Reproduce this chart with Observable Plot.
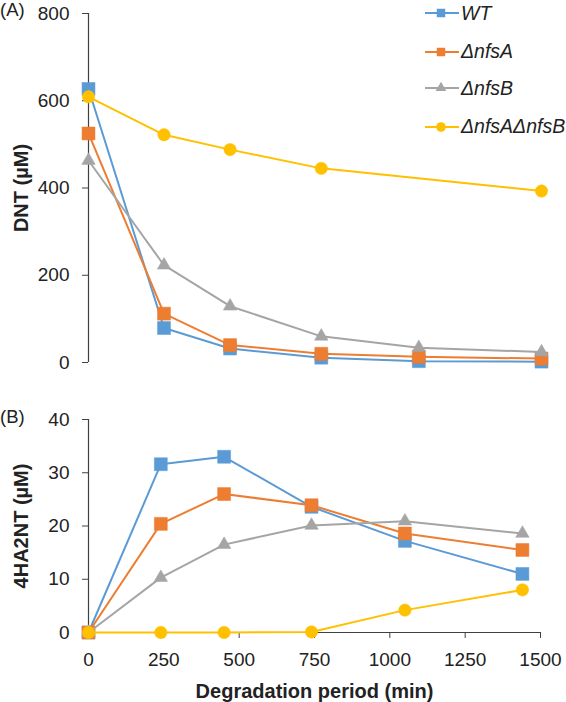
<!DOCTYPE html>
<html>
<head>
<meta charset="utf-8">
<script src="https://cdn.jsdelivr.net/npm/d3@7"></script>
<script src="https://cdn.jsdelivr.net/npm/@observablehq/plot@0.6"></script>
<style>
  html, body { margin: 0; padding: 0; background: #fff; }
  #wrap { position: relative; width: 566px; height: 702px; overflow: hidden; font-family: "Liberation Sans", Arial, sans-serif; color: #222; }
  .panel { position: absolute; left: 0; }
  .tag { position: absolute; left: 0; font-size: 18.5px; line-height: 1; }
  #legend { position: absolute; left: 425px; top: 0; }
  .item { position: absolute; left: 0; display: flex; align-items: center; height: 20px; white-space: nowrap; }
  .item span { font-style: italic; font-size: 19.5px; margin-left: 2px; }
</style>
</head>
<body>
<div id="wrap">
  <div class="panel" id="pa" style="top:0"></div>
  <div class="panel" id="pb" style="top:375px"></div>
  <div class="tag" style="top:1px">(A)</div>
  <div class="tag" style="top:408px">(B)</div>
  <div id="legend"></div>
</div>
<script>
// ---- data ----
const series = ["WT", "ΔnfsA", "ΔnfsB", "ΔnfsAΔnfsB"];
const colors = ["#5B9BD5", "#ED7D31", "#A5A5A5", "#FFC000"];
const symbols = ["square", "square", "triangle", "circle"];
const times = [0, 240, 450, 740, 1050, 1440];

// (A) DNT (µM)
const dntWT   = [627, 79, 32, 11, 3, 2];
const dntA    = [525, 112, 40, 20, 13, 9];
const dntB    = [463, 223, 129, 60, 34, 24];
const dntAB   = [609, 522, 488, 445, null, 393];

// (B) 4HA2NT (µM)
const haWT    = [0, 31.6, 33.0, 23.6, 17.2, 11.0];
const haA     = [0, 20.4, 26.0, 23.9, 18.6, 15.5];
const haB     = [0, 10.3, 16.5, 20.1, 20.9, 18.6];
const haAB    = [0, 0, 0, 0.1, 4.2, 8.0];

const dntTicks = [0, 200, 400, 600, 800];
const haTicks = [0, 10, 20, 30, 40];
const xTicks = [0, 250, 500, 750, 1000, 1250, 1500];

function table(arrs) {
  const rows = [];
  arrs.forEach((vals, si) => vals.forEach((v, i) => {
    if (v !== null) rows.push({series: series[si], t: times[i], v});
  }));
  return rows;
}
const dataA = table([dntWT, dntA, dntB, dntAB]);
const dataB = table([haWT, haA, haB, haAB]);

const rFor = {square: 7.3, triangle: 5, circle: 6.2};
const font = "Liberation Sans, Arial, sans-serif";
const axisColor = "#404040";

function seriesMarks(data) {
  const marks = [];
  series.forEach((s, i) => {
    const d = data.filter(r => r.series === s);
    marks.push(Plot.line(d, {x: "t", y: "v", stroke: colors[i], strokeWidth: 2}));
    marks.push(Plot.dot(d, {x: "t", y: "v", fill: colors[i], stroke: colors[i], strokeWidth: 0.5, symbol: () => symbols[i], r: rFor[symbols[i]]}));
  });
  return marks;
}

function styleLabels(svg) {
  d3.select(svg).selectAll('g[aria-label="y-axis label"] text, g[aria-label="x-axis label"] text')
    .attr("font-weight", "bold").attr("font-size", "20px").attr("fill", "#222");
  d3.select(svg).selectAll('g[aria-label="y-axis label"], g[aria-label="x-axis label"]')
    .attr("font-weight", "bold").attr("font-size", "20px");
}

const plotA = Plot.plot({
  width: 566, height: 375,
  marginLeft: 88, marginRight: 25, marginTop: 13, marginBottom: 13,
  style: {fontFamily: font, fontSize: "19px", color: "#222", background: "transparent", overflow: "visible"},
  x: {domain: [0, 1440], axis: null},
  y: {domain: [0, 800]},
  marks: [
    Plot.axisY({ticks: dntTicks, tickSize: 6, tickPadding: 13, stroke: axisColor, fill: "#222",
      label: "DNT (µM)", labelAnchor: "center", labelOffset: 75, labelArrow: "none", tickFormat: d => String(d)}),
    Plot.ruleX([0], {stroke: axisColor, strokeWidth: 1.2}),
    ...seriesMarks(dataA)
  ]
});
styleLabels(plotA);
document.getElementById("pa").appendChild(plotA);

const plotB = Plot.plot({
  width: 566, height: 327,
  marginLeft: 88, marginRight: 26, marginTop: 44, marginBottom: 70,
  style: {fontFamily: font, fontSize: "19px", color: "#222", background: "transparent", overflow: "visible"},
  x: {domain: [0, 1500]},
  y: {domain: [0, 40]},
  marks: [
    Plot.axisY({ticks: haTicks, tickSize: 6, tickPadding: 13, stroke: axisColor, fill: "#222",
      label: "4HA2NT (µM)", labelAnchor: "center", labelOffset: 75, labelArrow: "none", tickFormat: d => String(d)}),
    Plot.axisX({ticks: xTicks, tickSize: 6, tickPadding: 14, stroke: axisColor, fill: "#222",
      label: "Degradation period (min)", labelAnchor: "center", labelOffset: 65, labelArrow: "none", tickFormat: d => String(d)}),
    Plot.ruleX([0], {stroke: axisColor, strokeWidth: 1.2}),
    Plot.ruleY([0], {stroke: axisColor, strokeWidth: 1.2}),
    ...seriesMarks(dataB)
  ]
});
styleLabels(plotB);
document.getElementById("pb").appendChild(plotB);

// ---- legend ----
const legend = document.getElementById("legend");
const rowY = [13.3, 51.7, 88.3, 126.7];
series.forEach((s, i) => {
  const item = document.createElement("div");
  item.className = "item";
  item.style.top = (rowY[i] - 10) + "px";
  const sym = d3.symbol().type(symbols[i] === "square" ? d3.symbolSquare : symbols[i] === "triangle" ? d3.symbolTriangle : d3.symbolCircle)
    .size(symbols[i] === "square" ? 72 : symbols[i] === "triangle" ? 50 : 72)();
  item.innerHTML = `<svg width="34" height="20" viewBox="0 0 34 20"><line x1="0" x2="34" y1="10" y2="10" stroke="${colors[i]}" stroke-width="2"/><path d="${sym}" transform="translate(16,10)" fill="${colors[i]}"/></svg><span>${s}</span>`;
  legend.appendChild(item);
});
</script>
</body>
</html>
